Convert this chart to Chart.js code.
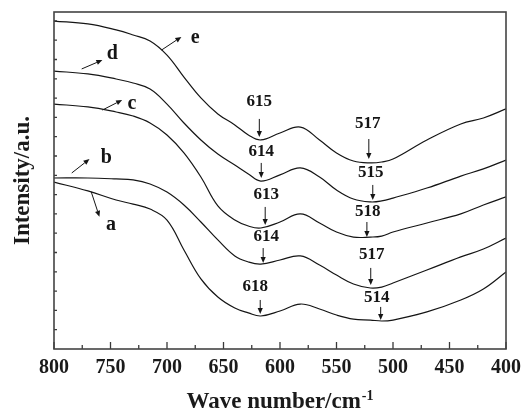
<!DOCTYPE html>
<html>
<head>
<meta charset="utf-8">
<script src="https://cdn.jsdelivr.net/npm/chart.js@4.4.1/dist/chart.umd.min.js"></script>
<style>
html,body{margin:0;padding:0;background:#fff;}
#c{display:block;}
</style>
</head>
<body>
<canvas id="c" width="528" height="409"></canvas>
<script>
// ---- data ----
const wavenumbers = [800, 770, 745, 730, 715, 700, 685, 670, 655, 640, 628, 617, 600, 582, 565, 550, 535, 520, 510, 500, 470, 440, 420, 400];
const seriesA = [8.65, 8.19, 7.72, 7.51, 7.25, 6.68, 5.13, 3.63, 2.69, 2.12, 1.87, 1.71, 1.97, 2.33, 2.07, 1.76, 1.55, 1.50, 1.45, 1.50, 1.92, 2.54, 3.11, 3.99];
const seriesB = [8.86, 8.86, 8.81, 8.76, 8.55, 8.13, 7.46, 6.58, 5.65, 4.82, 4.51, 4.40, 4.61, 4.82, 4.35, 3.83, 3.37, 3.16, 3.21, 3.42, 4.09, 4.77, 5.18, 5.75];
const seriesC = [12.69, 12.54, 12.28, 12.07, 11.71, 11.09, 10.16, 8.91, 7.41, 6.68, 6.37, 6.27, 6.58, 7.00, 6.53, 6.06, 5.80, 5.80, 5.85, 6.06, 6.53, 7.00, 7.46, 7.88];
const seriesD = [14.40, 14.25, 13.99, 13.78, 13.47, 12.69, 11.71, 10.83, 10.10, 9.53, 9.07, 8.70, 9.02, 9.38, 8.91, 8.24, 7.77, 7.62, 7.67, 7.82, 8.34, 8.96, 9.33, 9.79];
const seriesE = [16.99, 16.84, 16.53, 16.27, 15.96, 15.23, 14.09, 13.01, 12.18, 11.61, 11.09, 10.83, 11.19, 11.50, 10.83, 10.16, 9.74, 9.64, 9.69, 9.84, 10.83, 11.66, 11.97, 12.44];
const seriesNames = ['a', 'b', 'c', 'd', 'e'];
const xTickLabels = [800, 750, 700, 650, 600, 550, 500, 450, 400];
const xMinorTicks = [775, 725, 675, 625, 575, 525, 475, 425];
const yTickValues = [1,2,3,4,5,6,7,8,9,10,11,12,13,14,15,16,17];

// annotation anchors (data units: wavenumber, intensity)
const letterAnchor = [[749.6, 6.17], [753.7, 9.64], [731.0, 12.44], [748.5, 15.03], [675.1, 15.85]];
const letterArrowFrom = [[767.1, 8.15], [784.3, 9.12], [757.2, 12.38], [775.5, 14.51], [704.8, 15.49]];
const letterArrowTo = [[759.8, 6.85], [768.6, 9.84], [739.7, 12.90], [757.2, 14.97], [687.3, 16.17]];

const lowPeakLabels = ['618', '614', '613', '614', '615'];
const lowPeakText = [[621.8, 3.21], [612.2, 5.80], [612.2, 7.98], [616.6, 10.21], [618.3, 12.80]];
const lowPeakArrowX = [617.5, 614.9, 613.1, 616.6, 618.3];
const lowPeakArrowY = [[2.54, 1.81], [5.23, 4.46], [7.36, 6.42], [9.64, 8.86], [11.92, 10.98]];

const highPeakLabels = ['514', '517', '518', '515', '517'];
const highPeakText = [[514.4, 2.64], [518.8, 4.87], [522.3, 7.10], [519.7, 9.12], [522.3, 11.66]];
const highPeakArrowX = [510.9, 519.7, 523.1, 517.9, 521.4];
const highPeakArrowY = [[2.18, 1.50], [4.20, 3.32], [6.58, 5.80], [8.50, 7.72], [10.88, 9.84]];

const xTitle = 'Wave number/cm';
const xTitleSup = '-1';
const yTitle = 'Intensity/a.u.';

// ---- chart ----
const SERIF = "'Liberation Serif','Times New Roman',serif";
const allSeries = [seriesA, seriesB, seriesC, seriesD, seriesE];

const datasets = allSeries.map((s, k) => ({
  label: seriesNames[k],
  data: wavenumbers.map((w, i) => ({ x: w, y: s[i] })),
  borderColor: '#151515',
  borderWidth: 1.2,
  pointRadius: 0,
  fill: false,
  tension: 0.4
}));

function arrow(ctx, x1, y1, x2, y2) {
  const ang = Math.atan2(y2 - y1, x2 - x1);
  const hl = 6, hw = 2.6;
  const bx = x2 - hl * Math.cos(ang), by = y2 - hl * Math.sin(ang);
  ctx.beginPath();
  ctx.moveTo(x1, y1);
  ctx.lineTo(bx, by);
  ctx.stroke();
  ctx.beginPath();
  ctx.moveTo(x2, y2);
  ctx.lineTo(bx + hw * Math.sin(ang), by - hw * Math.cos(ang));
  ctx.lineTo(bx - hw * Math.sin(ang), by + hw * Math.cos(ang));
  ctx.closePath();
  ctx.fill();
}

const decor = {
  id: 'decor',
  afterDraw(chart) {
    const ctx = chart.ctx;
    const xs = chart.scales.x, ys = chart.scales.y;
    const a = chart.chartArea;
    const px = v => xs.getPixelForValue(v);
    const py = v => ys.getPixelForValue(v);
    ctx.save();
    // ticks
    ctx.strokeStyle = '#3a3a3a';
    ctx.lineWidth = 1.3;
    ctx.beginPath();
    xTickLabels.forEach(v => { const x = px(v); ctx.moveTo(x, a.bottom); ctx.lineTo(x, a.bottom - 7); });
    xMinorTicks.forEach(v => { const x = px(v); ctx.moveTo(x, a.bottom); ctx.lineTo(x, a.bottom - 4); });
    yTickValues.forEach(v => { const y = py(v); ctx.moveTo(a.left, y); ctx.lineTo(a.left + 3, y); });
    ctx.stroke();
    // frame
    ctx.strokeStyle = '#444';
    ctx.lineWidth = 1.6;
    ctx.strokeRect(a.left, a.top, a.right - a.left, a.bottom - a.top);

    // annotations
    ctx.fillStyle = '#151515';
    ctx.strokeStyle = '#151515';
    ctx.lineWidth = 1;
    ctx.textAlign = 'center';
    ctx.font = 'bold 20px ' + SERIF;
    ctx.textBaseline = 'alphabetic';
    seriesNames.forEach((n, k) => {
      ctx.fillText(n, px(letterAnchor[k][0]), py(letterAnchor[k][1]));
      arrow(ctx, px(letterArrowFrom[k][0]), py(letterArrowFrom[k][1]), px(letterArrowTo[k][0]), py(letterArrowTo[k][1]));
    });
    ctx.font = 'bold 17px ' + SERIF;
    ctx.textBaseline = 'middle';
    lowPeakLabels.forEach((t, k) => {
      ctx.fillText(t, px(lowPeakText[k][0]), py(lowPeakText[k][1]));
      arrow(ctx, px(lowPeakArrowX[k]), py(lowPeakArrowY[k][0]), px(lowPeakArrowX[k]), py(lowPeakArrowY[k][1]));
    });
    highPeakLabels.forEach((t, k) => {
      ctx.fillText(t, px(highPeakText[k][0]), py(highPeakText[k][1]));
      arrow(ctx, px(highPeakArrowX[k]), py(highPeakArrowY[k][0]), px(highPeakArrowX[k]), py(highPeakArrowY[k][1]));
    });

    // axis titles
    ctx.fillStyle = '#1a1a1a';
    ctx.textBaseline = 'alphabetic';
    ctx.font = 'bold 23px ' + SERIF;
    const mainW = ctx.measureText(xTitle).width;
    ctx.font = 'bold 14px ' + SERIF;
    const supW = ctx.measureText(xTitleSup).width;
    const cx = (a.left + a.right) / 2;
    const startX = cx - (mainW + supW + 1) / 2;
    ctx.textAlign = 'left';
    ctx.font = 'bold 23px ' + SERIF;
    ctx.fillText(xTitle, startX, 408);
    ctx.font = 'bold 14px ' + SERIF;
    ctx.fillText(xTitleSup, startX + mainW + 1, 400);

    ctx.save();
    ctx.translate(23, (a.top + a.bottom) / 2);
    ctx.rotate(-Math.PI / 2);
    ctx.textAlign = 'center';
    ctx.textBaseline = 'middle';
    ctx.font = 'bold 23px ' + SERIF;
    ctx.fillText(yTitle, 0, 0);
    ctx.restore();
    ctx.restore();
  }
};

new Chart(document.getElementById('c'), {
  type: 'line',
  data: { datasets },
  options: {
    responsive: false,
    animation: false,
    layout: { padding: { left: 0, top: 12, right: 16, bottom: 0 } },
    plugins: { legend: { display: false }, tooltip: { enabled: false } },
    scales: {
      x: {
        type: 'linear',
        reverse: true,
        min: 400,
        max: 800,
        grid: { display: false, drawTicks: false },
        border: { display: false },
        afterBuildTicks: s => { s.ticks = xTickLabels.map(v => ({ value: v })); },
        ticks: {
          padding: 7,
          color: '#1a1a1a',
          font: { family: SERIF, size: 20, weight: 'bold' },
          maxRotation: 0,
          autoSkip: false
        },
        afterFit: s => { s.height = 60; }
      },
      y: {
        type: 'linear',
        min: 0,
        max: 17.46,
        grid: { display: false, drawTicks: false },
        border: { display: false },
        ticks: { display: false },
        afterFit: s => { s.width = 54; }
      }
    }
  },
  plugins: [decor]
});
</script>
</body>
</html>
